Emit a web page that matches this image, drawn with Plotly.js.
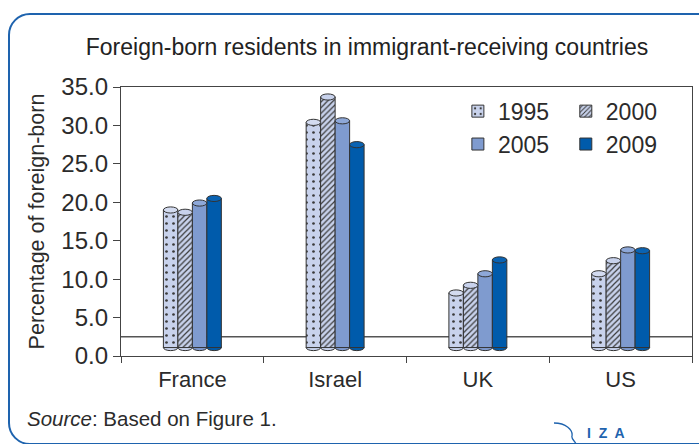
<!DOCTYPE html>
<html>
<head>
<meta charset="utf-8">
<script src="https://cdn.plot.ly/plotly-3.0.1.min.js"></script>
<style>
  html, body { margin: 0; padding: 0; background: #ffffff; }
  #wrap { position: relative; width: 699px; height: 444px; overflow: hidden; }
  #frame { position: absolute; left: 8px; top: 13px; width: 720px; height: 432px;
           border: 2px solid #1e63ae; border-radius: 22px; box-sizing: border-box; }
  #chart { position: absolute; left: 0; top: 0; width: 699px; height: 444px; }
  #logo { position: absolute; left: 0; top: 0; }
</style>
</head>
<body>
<div id="wrap">
  <div id="frame"></div>
  <svg id="logo" width="699" height="444">
    <path d="M554,423 C566,423 573,430 572,436 C571,439 575,441 576,444" fill="none" stroke="#1e63ae" stroke-width="1.3"/>
  </svg>
  <div id="chart"></div>
</div>
<script>
const categories = ['France', 'Israel', 'UK', 'US'];
const seriesNames = ['1995', '2000', '2005', '2009'];
const v1995 = [19.0, 30.4, 8.2, 10.7];
const v2000 = [18.7, 33.7, 9.2, 12.4];
const v2005 = [19.9, 30.6, 10.7, 13.8];
const v2009 = [20.5, 27.5, 12.5, 13.7];
const yTicks = [0, 5, 10, 15, 20, 25, 30, 35];

const seriesValues = [v1995, v2000, v2005, v2009];
const BASE = 1.1;
const FLOOR = 2.5;
const GAP = 0.594;
const RY = 0.4;

const styles = [
  {color: '#c8d2ec', top: '#d3dbf0', pattern: {shape: '.', bgcolor: '#c8d2ec', fgcolor: '#3a3a3a', size: 7, solidity: 0.12, fillmode: 'replace'}},
  {color: '#c8d2ec', top: '#c8d2ec', pattern: {shape: '/', bgcolor: '#c8d2ec', fgcolor: '#3a3a3a', size: 4, solidity: 0.3, fillmode: 'replace'}},
  {color: '#7f9bcf', top: '#8ea8d8', pattern: null},
  {color: '#005bab', top: '#0a63b3', pattern: null}
];

const FONT = '"Liberation Sans", Arial, sans-serif';
const TXT = '#2b2b2b';

const traces = seriesNames.map((name, k) => {
  const m = {color: styles[k].color, line: {color: '#333333', width: 1}};
  if (styles[k].pattern) m.pattern = styles[k].pattern;
  return {
    type: 'bar', name: name, x: categories,
    y: seriesValues[k].map(v => v - BASE), base: BASE,
    marker: m, legend: (k % 2 === 0) ? 'legend' : 'legend2',
    legendgroup: 'g' + k, hoverinfo: 'skip'
  };
});

const shapes = [];
const groupW = 1 - GAP;
const barW = groupW / 4;
seriesValues.forEach((vals, k) => {
  vals.forEach((v, j) => {
    const cx = j - groupW / 2 + (k + 0.5) * barW;
    shapes.push({type: 'circle', xref: 'x', yref: 'y', layer: 'below',
      x0: cx - barW / 2, x1: cx + barW / 2, y0: BASE - RY, y1: BASE + RY,
      fillcolor: styles[k].color, line: {color: '#333333', width: 1}});
    shapes.push({type: 'circle', xref: 'x', yref: 'y', layer: 'above',
      x0: cx - barW / 2, x1: cx + barW / 2, y0: v - RY, y1: v + RY,
      fillcolor: styles[k].top, line: {color: '#333333', width: 1}});
  });
});
shapes.unshift({type: 'line', xref: 'paper', yref: 'y', layer: 'below',
  x0: 0, x1: 1, y0: FLOOR, y1: FLOOR, line: {color: '#555555', width: 1.5}});

const legendCommon = {yanchor: 'top', xanchor: 'left', orientation: 'v',
  bgcolor: 'rgba(0,0,0,0)', font: {family: FONT, size: 23, color: TXT},
  traceorder: 'normal', tracegroupgap: 1};

const layout = {
  width: 699, height: 444,
  paper_bgcolor: 'rgba(0,0,0,0)', plot_bgcolor: 'rgba(0,0,0,0)',
  margin: {l: 121, r: 7, t: 87, b: 88},
  font: {family: FONT, color: TXT, size: 20},
  title: {text: 'Foreign-born residents in immigrant-receiving countries',
    x: 0.525, xanchor: 'center', y: 0.895, yanchor: 'middle',
    font: {family: FONT, size: 23, color: '#222222'}},
  barmode: 'group', bargap: GAP, bargroupgap: 0,
  showlegend: true,
  xaxis: {type: 'category', tickson: 'boundaries', ticks: 'outside', ticklen: 6,
    tickcolor: '#444', showline: true, linecolor: '#444', linewidth: 1.2, mirror: true,
    showgrid: false, zeroline: false, fixedrange: true, ticklabelstandoff: 3,
    tickfont: {family: FONT, size: 22, color: TXT}},
  yaxis: {range: [0, 35], tickvals: yTicks, tickformat: '.1f', ticks: 'outside', ticklen: 7,
    tickcolor: '#444', showline: true, linecolor: '#444', linewidth: 1.2, mirror: true,
    showgrid: false, zeroline: false, fixedrange: true,
    tickfont: {family: FONT, size: 24, color: TXT},
    title: {text: 'Percentage of foreign-born', standoff: 10,
      font: {family: FONT, size: 21.5, color: TXT}}},
  legend: Object.assign({x: 0.59, y: 0.99}, legendCommon),
  legend2: Object.assign({x: 0.779, y: 0.99}, legendCommon),
  shapes: shapes,
  annotations: [
    {xref: 'paper', yref: 'paper', x: -0.168, y: -0.232, xanchor: 'left', yanchor: 'middle',
     showarrow: false, text: '<i>Source</i>: Based on Figure 1.',
     font: {family: FONT, size: 20.5, color: TXT}},
    {xref: 'paper', yref: 'paper', x: 0.85, y: -0.285, xanchor: 'center', yanchor: 'middle',
     showarrow: false, text: '<b>I  Z  A</b>',
     font: {family: FONT, size: 14, color: '#1e63ae'}}
  ]
};

Plotly.newPlot('chart', traces, layout, {displayModeBar: false, staticPlot: true});
</script>
</body>
</html>
